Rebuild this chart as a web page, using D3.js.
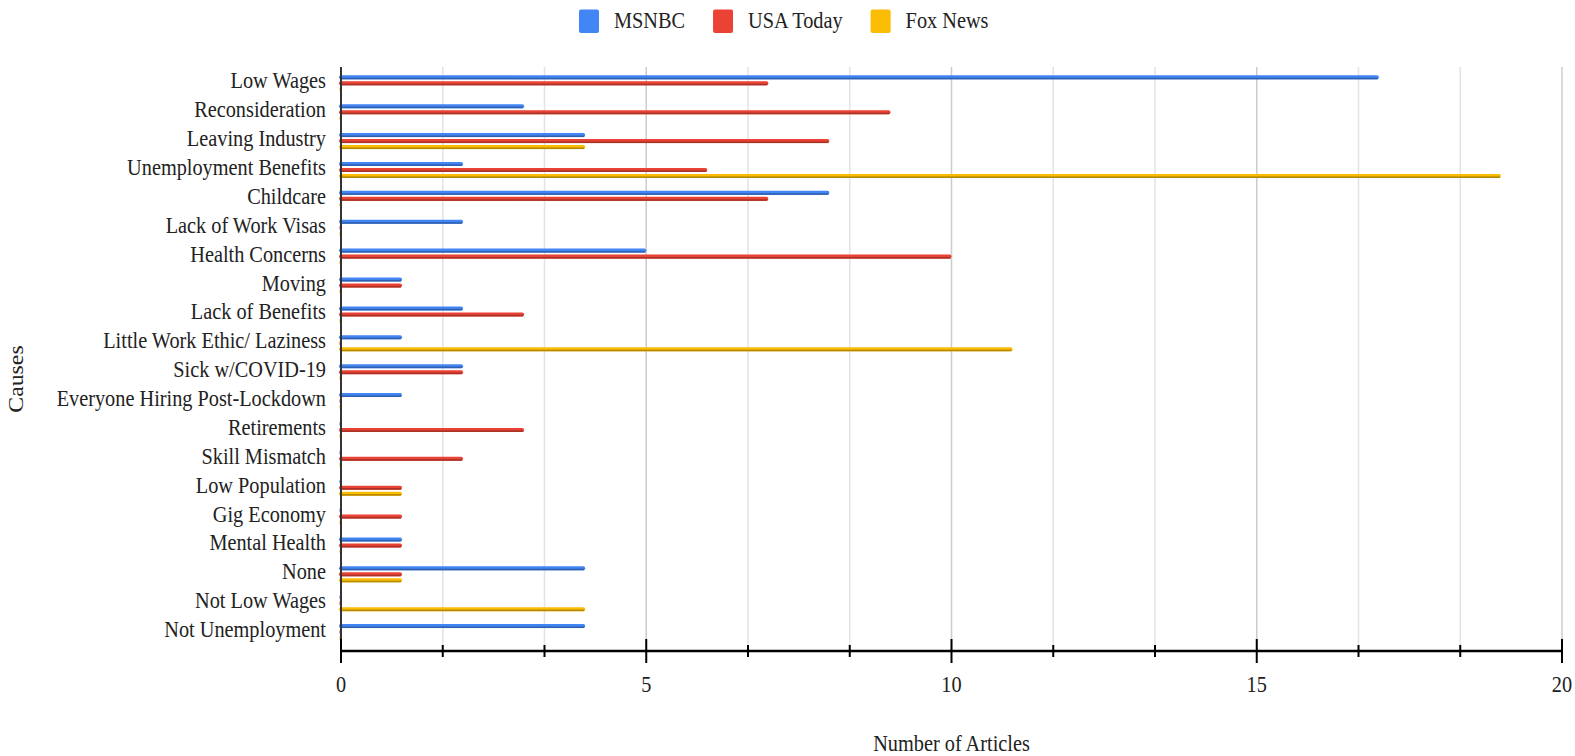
<!DOCTYPE html>
<html>
<head>
<meta charset="utf-8">
<script src="https://cdn.jsdelivr.net/npm/d3@7"></script>
<style>
  html, body { margin: 0; padding: 0; background: #fff; }
  svg text { font-family: "Liberation Serif", "Times New Roman", serif; fill: #222; }
</style>
</head>
<body>
<svg id="chart" width="1575" height="756"></svg>
<script>
const categories = [
  "Low Wages", "Reconsideration", "Leaving Industry", "Unemployment Benefits",
  "Childcare", "Lack of Work Visas", "Health Concerns", "Moving",
  "Lack of Benefits", "Little Work Ethic/ Laziness", "Sick w/COVID-19",
  "Everyone Hiring Post-Lockdown", "Retirements", "Skill Mismatch",
  "Low Population", "Gig Economy", "Mental Health", "None",
  "Not Low Wages", "Not Unemployment"
];
const seriesNames = ["MSNBC", "USA Today", "Fox News"];
const msnbc    = [17, 3, 4, 2, 8, 2, 5, 1, 2, 1, 2, 1, 0, 0, 0, 0, 1, 4, 0, 4];
const usaToday = [7, 9, 8, 6, 7, 0, 10, 1, 3, 0, 2, 0, 3, 2, 1, 1, 1, 1, 0, 0];
const foxNews  = [0, 0, 4, 19, 0, 0, 0, 0, 0, 11, 0, 0, 0, 0, 1, 0, 0, 1, 4, 0];
const colors = ["#4285F4", "#EA4335", "#FBBC04"];
const xMax = 20;
const xLabelTicks = [0, 5, 10, 15, 20];
const xTitle = "Number of Articles";
const yTitle = "Causes";

const seriesValues = [msnbc, usaToday, foxNews];
const SY = 1.17; // vertical text stretch seen in reference
const FS = 20.3;

const svg = d3.select("#chart");
const plotTop = 67, plotBottom = 651, plotLeft = 341, plotRight = 1562;

const x = d3.scaleLinear().domain([0, xMax]).range([plotLeft, plotRight]);
const y = d3.scaleBand().domain(categories).range([68.9, 646.5]).padding(0);
const inner = d3.scaleBand().domain(seriesNames).range([0, 18]);

// gridlines (12 divisions)
const gridTicks = d3.range(1, 13).map(i => i * xMax / 12);
const isMajor = d => xLabelTicks.some(t => Math.abs(t - d) < 1e-6);
svg.append("g").selectAll("line").data(gridTicks).join("line")
  .attr("x1", d => x(d)).attr("x2", d => x(d))
  .attr("y1", plotTop).attr("y2", plotBottom)
  .attr("stroke", d => isMajor(d) ? "#cccccc" : "#e3e3e3")
  .attr("stroke-width", 1.5);

// bars
const barData = [];
categories.forEach((c, i) => {
  seriesNames.forEach((s, j) => {
    barData.push({ cat: c, series: s, value: seriesValues[j][i], color: colors[j] });
  });
});
const bars = svg.append("g");
const barH = 4;
bars.selectAll("g.bar").data(barData).join("g").attr("class", "bar").each(function(d) {
  const g = d3.select(this);
  const cy = y(d.cat) + y.bandwidth() / 2 - 9 + inner(d.series) + inner.bandwidth() / 2;
  const x0 = x(0) - 2;
  const w = d.value > 0 ? x(d.value) - x(0) + 2 : 2;
  g.append("rect")
    .attr("x", x0).attr("y", cy - barH / 2)
    .attr("width", w).attr("height", barH)
    .attr("rx", 2).attr("ry", 2)
    .attr("fill", d.color)
    .attr("opacity", d.value > 0 ? 1 : 0.55);
  if (d.value > 0) {
    g.append("rect")
      .attr("x", x0 + 1).attr("y", cy + barH / 2 - 1.6)
      .attr("width", Math.max(0, w - 2)).attr("height", 1.6)
      .attr("fill", d3.color(d.color).darker(0.9));
  }
});

// y axis line
svg.append("line")
  .attr("x1", plotLeft).attr("x2", plotLeft)
  .attr("y1", plotTop).attr("y2", plotBottom)
  .attr("stroke", "#333").attr("stroke-width", 2);

// x axis line
svg.append("line")
  .attr("x1", plotLeft - 1).attr("x2", plotRight + 1)
  .attr("y1", plotBottom).attr("y2", plotBottom)
  .attr("stroke", "#000").attr("stroke-width", 2.5);

// ticks
const allTicks = d3.range(0, 13).map(i => i * xMax / 12);
svg.append("g").selectAll("line").data(allTicks).join("line")
  .attr("x1", d => x(d)).attr("x2", d => x(d))
  .attr("y1", d => isMajor(d) ? plotBottom - 12 : plotBottom - 6)
  .attr("y2", d => isMajor(d) ? plotBottom + 12 : plotBottom + 6)
  .attr("stroke", "#000").attr("stroke-width", 2);

// tick labels
svg.append("g").selectAll("text").data(xLabelTicks).join("text")
  .attr("transform", d => `translate(${x(d)},692) scale(1,${SY})`)
  .attr("text-anchor", "middle")
  .attr("font-size", FS)
  .text(d => d);

// category labels
svg.append("g").selectAll("text").data(categories).join("text")
  .attr("transform", d => `translate(326,${y(d) + y.bandwidth() / 2 + 5}) scale(1,${SY})`)
  .attr("text-anchor", "end")
  .attr("font-size", FS)
  .text(d => d);

// axis titles
svg.append("text")
  .attr("transform", `translate(${(plotLeft + plotRight) / 2},751) scale(1,${SY})`)
  .attr("text-anchor", "middle").attr("font-size", FS)
  .text(xTitle);
svg.append("text")
  .attr("transform", `translate(23,379) scale(1,${SY}) rotate(-90)`)
  .attr("text-anchor", "middle").attr("font-size", FS)
  .text(yTitle);

// legend
const legend = svg.append("g");
let lx = 579;
seriesNames.forEach((s, j) => {
  legend.append("rect")
    .attr("x", lx).attr("y", 9.5)
    .attr("width", 20).attr("height", 23.5)
    .attr("rx", 2).attr("fill", colors[j]);
  const t = legend.append("text")
    .attr("transform", `translate(${lx + 35},28.3) scale(1,${SY})`)
    .attr("font-size", FS)
    .text(s);
  const tw = t.node().getComputedTextLength();
  lx = lx + 35 + tw + 28;
});
</script>
</body>
</html>
